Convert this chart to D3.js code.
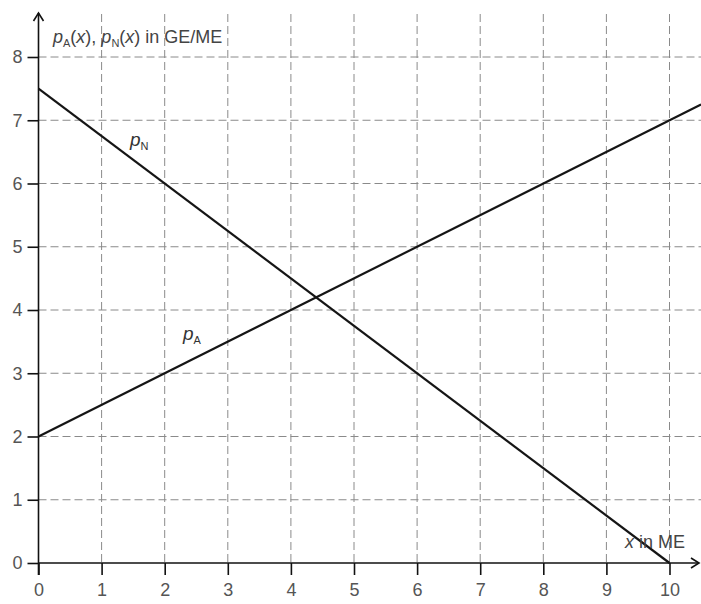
<!DOCTYPE html>
<html>
<head>
<meta charset="utf-8">
<script src="https://cdn.jsdelivr.net/npm/d3@7"></script>
<style>
  html, body { margin: 0; padding: 0; background: #fff; }
  svg { display: block; }
  text { font-family: "Liberation Sans", Arial, sans-serif; }
</style>
</head>
<body>
<svg id="chart" width="701" height="604"></svg>
<script>
// ---- data ----
const xTicks = [0, 1, 2, 3, 4, 5, 6, 7, 8, 9, 10];
const yTicks = [0, 1, 2, 3, 4, 5, 6, 7, 8];
const pA_x = [0, 10.5];
const pA_y = [2, 7.25];
const pN_x = [0, 10];
const pN_y = [7.5, 0];

// ---- layout ----
const svg = d3.select("#chart");
const x = d3.scaleLinear().domain([0, 10]).range([38.5, 669.5]);
const y = d3.scaleLinear().domain([0, 8]).range([563, 57]);
const textColor = "#555";

// grid
const grid = svg.append("g").attr("stroke", "#8a8a8a").attr("stroke-width", 1)
  .attr("stroke-dasharray", "8,4").attr("fill", "none");
grid.selectAll("line.v").data(xTicks.filter(d => d > 0)).enter().append("line")
  .attr("x1", d => x(d)).attr("x2", d => x(d)).attr("y1", 14).attr("y2", y(0));
grid.selectAll("line.h").data(yTicks.filter(d => d > 0)).enter().append("line")
  .attr("x1", x(0)).attr("x2", 701).attr("y1", d => y(d)).attr("y2", d => y(d));

// axes
const xAxis = d3.axisBottom(x).tickValues(xTicks).tickSize(12).tickPadding(8).tickFormat(d3.format("d"));
const yAxis = d3.axisLeft(y).tickValues(yTicks).tickSize(11).tickPadding(5).tickFormat(d3.format("d"));

const gx = svg.append("g").attr("transform", `translate(0,${y(0)})`).call(xAxis);
gx.select(".domain").remove();
gx.selectAll(".tick line").attr("stroke", "#111").attr("stroke-width", 1.6);
gx.selectAll(".tick text").attr("fill", textColor).attr("font-size", 18).attr("font-family", "Liberation Sans, Arial, sans-serif");

const gy = svg.append("g").attr("transform", `translate(${x(0)},0)`).call(yAxis);
gy.select(".domain").remove();
gy.selectAll(".tick line").attr("stroke", "#111").attr("stroke-width", 1.6);
gy.selectAll(".tick text").attr("fill", textColor).attr("font-size", 18).attr("font-family", "Liberation Sans, Arial, sans-serif");

// axis lines with arrows
const axisG = svg.append("g").attr("stroke", "#111").attr("stroke-width", 1.6).attr("fill", "none");
axisG.append("line").attr("x1", x(0)).attr("x2", 699).attr("y1", y(0)).attr("y2", y(0));
axisG.append("line").attr("x1", x(0)).attr("x2", x(0)).attr("y1", y(0) + 12).attr("y2", 13);
axisG.append("path").attr("d", `M${x(0) - 5},${21} L${x(0)},${13} L${x(0) + 5},${21}`);
axisG.append("path").attr("d", `M691,${y(0) - 5} L699,${y(0)} L691,${y(0) + 5}`);

// lines
const lineGen = d3.line().x(d => x(d[0])).y(d => y(d[1]));
svg.append("path").datum(d3.zip(pN_x, pN_y)).attr("d", lineGen)
  .attr("stroke", "#151515").attr("stroke-width", 2.2).attr("fill", "none");
svg.append("path").datum(d3.zip(pA_x, pA_y)).attr("d", lineGen)
  .attr("stroke", "#151515").attr("stroke-width", 2.2).attr("fill", "none");

// labels
function subLabel(px, py, main, sub) {
  const t = svg.append("text").attr("x", px).attr("y", py).attr("fill", "#333").attr("font-size", 19);
  t.append("tspan").attr("font-style", "italic").text(main);
  t.append("tspan").attr("font-size", 11).attr("dy", 4).text(sub);
  return t;
}
subLabel(x(1.45), y(6.6), "p", "N");
subLabel(x(2.29), y(3.53), "p", "A");

// y-axis title
const yt = svg.append("text").attr("x", 53).attr("y", 43).attr("fill", "#444").attr("font-size", 18);
yt.append("tspan").attr("font-style", "italic").text("p");
yt.append("tspan").attr("font-size", 11).attr("dy", 4).text("A");
yt.append("tspan").attr("dy", -4).text("(");
yt.append("tspan").attr("font-style", "italic").text("x");
yt.append("tspan").text("), ");
yt.append("tspan").attr("font-style", "italic").text("p");
yt.append("tspan").attr("font-size", 11).attr("dy", 4).text("N");
yt.append("tspan").attr("dy", -4).text("(");
yt.append("tspan").attr("font-style", "italic").text("x");
yt.append("tspan").text(") in GE/ME");

// x-axis title
const xt = svg.append("text").attr("x", 625).attr("y", 548).attr("fill", "#444").attr("font-size", 18);
xt.append("tspan").attr("font-style", "italic").text("x");
xt.append("tspan").text(" in ME");
</script>
</body>
</html>
